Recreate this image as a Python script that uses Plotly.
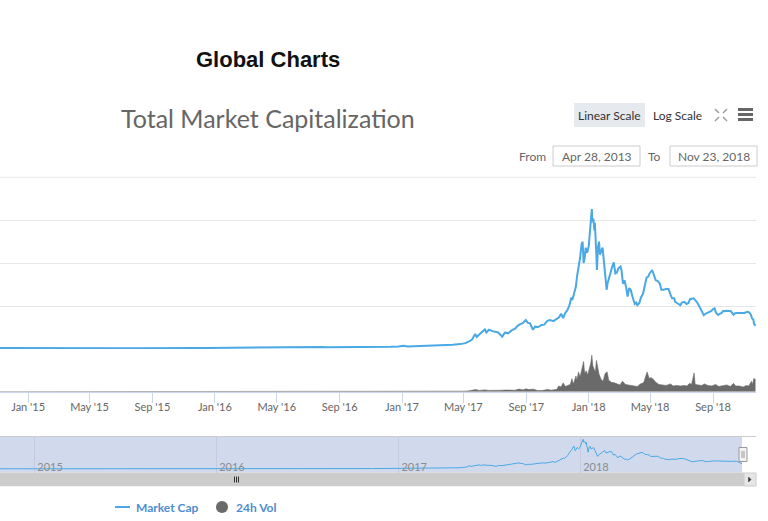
import plotly.graph_objects as go

# ---------------- data (billions USD) ----------------
mc_dates = [
    "2014-10-20", "2014-11-07", "2014-11-20", "2014-12-05", "2014-12-20", "2015-01-01", "2015-01-14", "2015-01-25",
    "2015-02-10", "2015-02-25", "2015-03-10", "2015-03-25", "2015-04-10", "2015-04-25", "2015-05-10",
    "2015-05-25", "2015-06-10", "2015-06-25", "2015-07-10", "2015-07-25", "2015-08-10", "2015-08-25",
    "2015-09-10", "2015-09-25", "2015-10-10", "2015-10-25", "2015-11-04", "2015-11-15", "2015-11-30",
    "2015-12-15", "2016-01-01", "2016-01-15", "2016-02-01", "2016-02-15", "2016-03-01", "2016-03-15",
    "2016-04-01", "2016-04-15", "2016-05-01", "2016-05-15", "2016-06-01", "2016-06-16", "2016-06-25",
    "2016-07-10", "2016-07-25", "2016-08-10", "2016-08-25", "2016-09-10", "2016-09-25", "2016-10-10",
    "2016-10-25", "2016-11-10", "2016-11-25", "2016-12-10", "2016-12-25", "2017-01-04", "2017-01-12",
    "2017-01-25", "2017-02-10", "2017-02-25", "2017-03-10", "2017-03-25", "2017-04-10", "2017-04-25",
    "2017-05-05", "2017-05-12", "2017-05-18", "2017-05-24", "2017-05-27", "2017-06-01", "2017-06-06",
    "2017-06-12", "2017-06-15", "2017-06-20", "2017-06-27", "2017-07-02", "2017-07-08", "2017-07-16",
    "2017-07-21", "2017-07-28", "2017-08-03", "2017-08-10", "2017-08-15", "2017-08-20", "2017-08-25",
    "2017-08-31", "2017-09-04", "2017-09-08", "2017-09-14", "2017-09-18", "2017-09-24", "2017-10-01",
    "2017-10-06", "2017-10-12", "2017-10-17", "2017-10-24", "2017-10-30", "2017-11-04", "2017-11-08",
    "2017-11-12", "2017-11-16", "2017-11-20", "2017-11-24", "2017-11-28", "2017-11-30", "2017-12-03",
    "2017-12-07", "2017-12-09", "2017-12-12", "2017-12-15", "2017-12-18", "2017-12-20", "2017-12-22",
    "2017-12-24", "2017-12-26", "2017-12-29", "2018-01-01", "2018-01-04", "2018-01-07", "2018-01-08",
    "2018-01-10", "2018-01-12", "2018-01-13", "2018-01-16", "2018-01-17", "2018-01-19", "2018-01-21",
    "2018-01-23", "2018-01-26", "2018-01-28", "2018-01-31", "2018-02-02", "2018-02-05", "2018-02-07",
    "2018-02-10", "2018-02-13", "2018-02-16", "2018-02-19", "2018-02-22", "2018-02-25", "2018-02-28",
    "2018-03-04", "2018-03-06", "2018-03-09", "2018-03-12", "2018-03-15", "2018-03-18", "2018-03-21",
    "2018-03-24", "2018-03-28", "2018-04-01", "2018-04-04", "2018-04-06", "2018-04-10", "2018-04-13",
    "2018-04-17", "2018-04-20", "2018-04-24", "2018-04-27", "2018-04-30", "2018-05-05", "2018-05-08",
    "2018-05-12", "2018-05-16", "2018-05-20", "2018-05-23", "2018-05-28", "2018-06-01", "2018-06-06",
    "2018-06-10", "2018-06-13", "2018-06-17", "2018-06-19", "2018-06-24", "2018-06-29", "2018-07-02",
    "2018-07-07", "2018-07-11", "2018-07-15", "2018-07-18", "2018-07-22", "2018-07-25", "2018-07-28",
    "2018-07-31", "2018-08-04", "2018-08-08", "2018-08-11", "2018-08-14", "2018-08-17", "2018-08-20",
    "2018-08-24", "2018-08-28", "2018-09-01", "2018-09-04", "2018-09-07", "2018-09-11", "2018-09-14",
    "2018-09-18", "2018-09-21", "2018-09-24", "2018-09-27", "2018-10-01", "2018-10-06", "2018-10-11",
    "2018-10-14", "2018-10-18", "2018-10-23", "2018-10-28", "2018-11-01", "2018-11-05", "2018-11-08",
    "2018-11-11", "2018-11-14", "2018-11-16", "2018-11-19", "2018-11-20", "2018-11-23",
]
mc_values = [
    5.9, 5.6, 5.3, 5.3, 4.6, 4.7, 2.9, 3.8,
    3.4, 3.6, 4.2, 3.6, 3.6, 3.4, 3.6,
    3.6, 3.5, 3.7, 4.3, 4.4, 4.2, 3.5,
    3.7, 3.6, 3.8, 4.4, 6.6, 5.2, 5.6,
    6.5, 7.0, 6.2, 6.8, 7.3, 8.6, 8.1,
    8.1, 8.1, 8.6, 8.9, 10.6, 13.9, 11.2,
    12.0, 11.8, 10.5, 10.4, 11.0, 11.1, 11.3,
    12.1, 12.5, 13.2, 13.5, 15.0, 18.5, 15.0,
    16.0, 17.5, 19.5, 23.0, 20.5, 24.5, 28.5,
    34.0, 45.0, 55.0, 88.0, 70.0, 84.0, 100.0,
    114.0, 96.0, 112.0, 104.0, 102.0, 96.0, 72.0,
    95.0, 92.0, 108.0, 118.0, 135.0, 145.0, 150.0,
    168.0, 152.0, 150.0, 112.0, 130.0, 128.0, 140.0,
    142.0, 164.0, 168.0, 162.0, 172.0, 185.0, 205.0,
    180.0, 210.0, 225.0, 252.0, 300.0, 285.0, 320.0,
    365.0, 420.0, 470.0, 530.0, 610.0, 625.0, 500.0,
    530.0, 590.0, 560.0, 600.0, 720.0, 815.0, 740.0,
    760.0, 690.0, 735.0, 540.0, 460.0, 590.0, 625.0,
    550.0, 570.0, 590.0, 500.0, 420.0, 345.0, 385.0,
    420.0, 440.0, 480.0, 505.0, 440.0, 445.0, 470.0,
    480.0, 460.0, 380.0, 400.0, 360.0, 305.0, 355.0,
    345.0, 300.0, 262.0, 270.0, 255.0, 268.0, 300.0,
    320.0, 370.0, 415.0, 420.0, 440.0, 460.0, 435.0,
    400.0, 395.0, 380.0, 345.0, 345.0, 350.0, 350.0,
    315.0, 295.0, 295.0, 275.0, 265.0, 255.0, 270.0,
    275.0, 262.0, 268.0, 290.0, 294.0, 295.0, 285.0,
    275.0, 255.0, 235.0, 220.0, 197.0, 205.0, 210.0,
    212.0, 220.0, 232.0, 236.0, 210.0, 198.0, 205.0,
    210.0, 222.0, 220.0, 223.0, 222.0, 220.0, 200.0,
    208.0, 210.0, 209.0, 207.0, 210.0, 214.0, 217.0,
    212.0, 200.0, 180.0, 170.0, 148.0, 135.0,
]

vol_dates = [
    "2014-11-07", "2015-06-01", "2016-01-01", "2016-06-18", "2017-01-05", "2017-04-01", "2017-05-01",
    "2017-05-10", "2017-05-25", "2017-06-01", "2017-06-12", "2017-06-20", "2017-07-01", "2017-07-16",
    "2017-07-20", "2017-08-01", "2017-08-10", "2017-08-18", "2017-08-25", "2017-09-01", "2017-09-05",
    "2017-09-15", "2017-09-22", "2017-10-01", "2017-10-12", "2017-10-20", "2017-10-31", "2017-11-03",
    "2017-11-08", "2017-11-12", "2017-11-16", "2017-11-21", "2017-11-26", "2017-11-29", "2017-12-02",
    "2017-12-07", "2017-12-09", "2017-12-12", "2017-12-15", "2017-12-19", "2017-12-22", "2017-12-24",
    "2017-12-27", "2017-12-30", "2018-01-03", "2018-01-05", "2018-01-07", "2018-01-09", "2018-01-12",
    "2018-01-14", "2018-01-16", "2018-01-18", "2018-01-21", "2018-01-25", "2018-01-29", "2018-02-02",
    "2018-02-06", "2018-02-09", "2018-02-14", "2018-02-20", "2018-02-26", "2018-03-03", "2018-03-08",
    "2018-03-14", "2018-03-19", "2018-03-25", "2018-03-31", "2018-04-06", "2018-04-12", "2018-04-16",
    "2018-04-19", "2018-04-22", "2018-04-25", "2018-04-29", "2018-05-03", "2018-05-07", "2018-05-12",
    "2018-05-18", "2018-05-25", "2018-06-01", "2018-06-10", "2018-06-15", "2018-06-22", "2018-06-29",
    "2018-07-06", "2018-07-12", "2018-07-17", "2018-07-21", "2018-07-26", "2018-07-28", "2018-08-03",
    "2018-08-10", "2018-08-15", "2018-08-22", "2018-08-30", "2018-09-06", "2018-09-12", "2018-09-20",
    "2018-09-28", "2018-10-05", "2018-10-11", "2018-10-15", "2018-10-22", "2018-10-30", "2018-11-05",
    "2018-11-10", "2018-11-15", "2018-11-17", "2018-11-20", "2018-11-22", "2018-11-23",
]
vol_values = [
    0.03, 0.03, 0.1, 0.3, 0.4, 0.4, 1.0,
    1.5, 4.0, 2.5, 3.5, 2.5, 2.2, 2.8,
    3.2, 2.5, 3.0, 5.0, 3.5, 5.5, 4.0,
    4.8, 2.5, 2.2, 4.0, 3.0, 4.5, 11.0,
    9.0, 17.0, 10.0, 12.0, 14.0, 25.0, 15.0,
    30.0, 22.0, 38.0, 28.0, 45.0, 58.0, 35.0,
    40.0, 32.0, 45.0, 55.0, 70.0, 50.0, 42.0,
    38.0, 60.0, 48.0, 34.0, 24.0, 20.0, 35.0,
    38.0, 22.0, 18.0, 17.0, 14.0, 13.0, 20.0,
    14.0, 13.0, 12.0, 11.0, 10.0, 15.0, 16.0,
    19.0, 28.0, 38.0, 26.0, 27.0, 24.0, 18.0,
    14.0, 13.0, 12.0, 15.0, 11.0, 12.0, 11.0,
    12.0, 11.0, 16.0, 14.0, 36.0, 14.0, 13.0,
    12.0, 15.0, 12.0, 11.0, 14.0, 10.0, 12.0,
    13.0, 10.0, 16.0, 11.0, 11.0, 9.0, 12.0,
    11.0, 20.0, 14.0, 26.0, 22.0, 24.0,
]

main_tick_dates = ["2015-01-01", "2015-05-01", "2015-09-01", "2016-01-01", "2016-05-01", "2016-09-01",
                   "2017-01-01", "2017-05-01", "2017-09-01", "2018-01-01", "2018-05-01", "2018-09-01"]
main_tick_labels = ["Jan '15", "May '15", "Sep '15", "Jan '16", "May '16", "Sep '16",
                    "Jan '17", "May '17", "Sep '17", "Jan '18", "May '18", "Sep '18"]
nav_tick_dates = ["2015-01-01", "2016-01-01", "2017-01-01", "2018-01-01"]
nav_tick_labels = ["2015", "2016", "2017", "2018"]

# ---------------- layout helpers ----------------
W, H = 768, 521
def px(x):
    return x / W
def py(y):
    return 1 - y / H

BLUE = "#4aa8e4"
FONT = "Lato"

fig = go.Figure()
fig.add_trace(go.Scatter(x=mc_dates, y=mc_values, xaxis="x2", yaxis="y", mode="lines",
                         line=dict(color=BLUE, width=2), name="Market Cap", showlegend=False,
                         hoverinfo="skip"))
fig.add_trace(go.Scatter(x=vol_dates, y=vol_values, xaxis="x", yaxis="y2", mode="lines",
                         line=dict(color="#6a6a6a", width=0.6), fill="tozeroy", fillcolor="#6a6a6a",
                         name="24h Vol", showlegend=False, hoverinfo="skip"))
fig.add_trace(go.Scatter(x=mc_dates, y=mc_values, xaxis="x3", yaxis="y3", mode="lines",
                         line=dict(color=BLUE, width=1), showlegend=False, hoverinfo="skip"))

fig.update_layout(
    width=W, height=H, margin=dict(l=0, r=0, t=0, b=0),
    paper_bgcolor="white", plot_bgcolor="white",
    font=dict(family=FONT, color="#666666"),
    xaxis=dict(domain=[0, px(756)], range=["2014-11-07", "2018-11-24"], anchor="y2", type="date",
               tickmode="array", tickvals=main_tick_dates, ticktext=main_tick_labels,
               ticks="outside", ticklen=5, tickcolor="#ccd6eb", tickwidth=1,
               minor=dict(tickmode="array", tickvals=main_tick_dates, ticks="outside", ticklen=10,
                          tickcolor="#ccd6eb", tickwidth=1, showgrid=False),
               showline=True, linecolor="#ccd6eb", linewidth=1, showgrid=False, zeroline=False,
               tickfont=dict(size=11, color="#666666", family=FONT)),
    xaxis2=dict(domain=[0, px(756)], matches="x", anchor="y", type="date", showticklabels=False,
                ticks="", showgrid=False, showline=False, zeroline=False),
    yaxis=dict(domain=[py(349), py(177.3)], range=[0, 1000], tick0=0, dtick=250, showgrid=True,
               gridcolor="#e6e6e6", gridwidth=1, showticklabels=False, ticks="", zeroline=False),
    yaxis2=dict(domain=[py(391.7), py(349)], range=[0, 82], showgrid=False, showticklabels=False,
                ticks="", zeroline=False),
    xaxis3=dict(domain=[0, px(742)], range=["2014-10-24", "2018-11-22"], anchor="y3", type="date",
                tickmode="array", tickvals=nav_tick_dates, ticktext=nav_tick_labels,
                ticklabelposition="inside right", ticklabelshift=3, ticks="", showgrid=True,
                gridcolor="#c5cce0", showline=False, zeroline=False,
                tickfont=dict(size=11, color="#8c8c8c", family=FONT)),
    yaxis3=dict(domain=[py(479), py(436.5)], range=[-274, 892], showgrid=False, showticklabels=False,
                ticks="", zeroline=False),
    showlegend=False,
)

shapes = []
# navigator mask
shapes.append(dict(type="rect", xref="paper", yref="paper", x0=px(0), x1=px(742), y0=py(472.5), y1=py(436.5),
                   fillcolor="rgba(102,133,194,0.3)", line=dict(width=0), layer="below"))
# white area right of the mask inside navigator
shapes.append(dict(type="rect", xref="paper", yref="paper", x0=px(742), x1=px(768), y0=py(486), y1=py(436.5),
                   fillcolor="white", line=dict(width=0), layer="below"))
# navigator top outline
shapes.append(dict(type="line", xref="paper", yref="paper", x0=px(0), x1=px(756), y0=py(436.5), y1=py(436.5),
                   line=dict(color="#cccccc", width=1)))
# scrollbar (covers lower part of navigator area)
shapes.append(dict(type="rect", xref="paper", yref="paper", x0=px(0), x1=px(744), y0=py(486), y1=py(473),
                   fillcolor="#cccccc", line=dict(color="#cccccc", width=1)))
shapes.append(dict(type="rect", xref="paper", yref="paper", x0=px(0), x1=px(768), y0=py(492), y1=py(486.5),
                   fillcolor="white", line=dict(width=0)))
shapes.append(dict(type="rect", xref="paper", yref="paper", x0=px(744), x1=px(756), y0=py(486), y1=py(473),
                   fillcolor="#e6e6e6", line=dict(color="#cccccc", width=1)))
shapes.append(dict(type="path", xref="paper", yref="paper",
                   path=f"M {px(748.5)} {py(477)} L {px(748.5)} {py(482)} L {px(751)} {py(479.5)} Z",
                   fillcolor="#333333", line=dict(color="#333333", width=0.5)))
for gx in (234.5, 236.5, 238.5):
    shapes.append(dict(type="line", xref="paper", yref="paper", x0=px(gx), x1=px(gx), y0=py(476.5), y1=py(482.5),
                       line=dict(color="#333333", width=1)))
# navigator handle
shapes.append(dict(type="rect", xref="paper", yref="paper", x0=px(739), x1=px(747), y0=py(461.5), y1=py(447.5),
                   fillcolor="#f2f2f2", line=dict(color="#999999", width=1)))
shapes.append(dict(type="line", xref="paper", yref="paper", x0=px(742), x1=px(742), y0=py(458), y1=py(451),
                   line=dict(color="#999999", width=1)))
shapes.append(dict(type="line", xref="paper", yref="paper", x0=px(744), x1=px(744), y0=py(458), y1=py(451),
                   line=dict(color="#999999", width=1)))
# Linear Scale button background
shapes.append(dict(type="rect", xref="paper", yref="paper", x0=px(574), x1=px(645), y0=py(127), y1=py(103),
                   fillcolor="#e6e9ed", line=dict(width=0), layer="below"))
# fullscreen icon (four corner arrows)
for (x0, y0, x1, y1) in [(715, 109, 719, 113), (727, 109, 723, 113), (715, 121, 719, 117), (727, 121, 723, 117)]:
    shapes.append(dict(type="line", xref="paper", yref="paper", x0=px(x0), x1=px(x1), y0=py(y0), y1=py(y1),
                       line=dict(color="#9a9a9a", width=1.5)))
# hamburger menu
for hy in (109.5, 114.5, 119.5):
    shapes.append(dict(type="line", xref="paper", yref="paper", x0=px(738), x1=px(753), y0=py(hy), y1=py(hy),
                       line=dict(color="#666666", width=3)))
# date input boxes
for (x0, x1) in [(553, 640), (670, 757)]:
    shapes.append(dict(type="rect", xref="paper", yref="paper", x0=px(x0), x1=px(x1), y0=py(166), y1=py(146),
                       fillcolor="white", line=dict(color="#cccccc", width=1)))
# top separator line
shapes.append(dict(type="line", xref="paper", yref="paper", x0=px(0), x1=px(756), y0=py(177.3), y1=py(177.3),
                   line=dict(color="#e6e6e6", width=1)))
# legend symbols
shapes.append(dict(type="line", xref="paper", yref="paper", x0=px(115), x1=px(130), y0=py(507), y1=py(507),
                   line=dict(color=BLUE, width=2)))
shapes.append(dict(type="circle", xref="paper", yref="paper", x0=px(216), x1=px(228), y0=py(513), y1=py(501),
                   fillcolor="#6a6a6a", line=dict(width=0)))
fig.update_layout(shapes=shapes)

def ann(text, x, y, size, color, family=FONT, xanchor="center", bold=False):
    t = f"<b>{text}</b>" if bold else text
    return dict(text=t, x=px(x), y=py(y), xref="paper", yref="paper", showarrow=False,
                xanchor=xanchor, yanchor="middle", font=dict(size=size, color=color, family=family))

annotations = [
    ann("Global Charts", 268, 60, 22, "#111111", family="Liberation Sans, Arial", bold=True),
    ann("Total Market Capitalization", 268, 118, 25, "#666666"),
    ann("Linear Scale", 609.5, 115, 12, "#333333"),
    ann("Log Scale", 677.5, 115, 12, "#333333"),
    ann("From", 548, 156, 12, "#666666", xanchor="right"),
    ann("Apr 28, 2013", 596.5, 156, 12, "#666666"),
    ann("To", 663, 156, 12, "#666666", xanchor="right"),
    ann("Nov 23, 2018", 713.5, 156, 12, "#666666"),
    ann("Market Cap", 134, 507, 12, "#4d8dd0", xanchor="left", bold=True),
    ann("24h Vol", 234, 507, 12, "#4d8dd0", xanchor="left", bold=True),
]
fig.update_layout(annotations=annotations)

fig.write_html("out.html", config={"displayModeBar": False},
               post_script="document.body.style.margin='0px';")
